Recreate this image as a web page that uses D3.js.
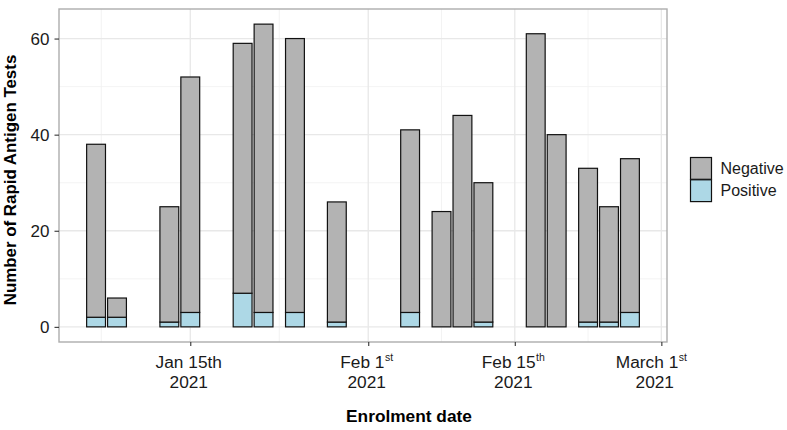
<!DOCTYPE html>
<html>
<head>
<meta charset="utf-8">
<script src="https://cdn.jsdelivr.net/npm/d3@7/dist/d3.min.js"></script>
<style>
  html, body { margin: 0; padding: 0; background: #fff; }
  svg { display: block; font-family: "Liberation Sans", Arial, Helvetica, sans-serif; }
</style>
</head>
<body>
<svg id="chart" width="787" height="430"></svg>
<script>
// ---- data ----
const enrolDates = ["2021-01-06","2021-01-08","2021-01-13","2021-01-15","2021-01-20","2021-01-22",
  "2021-01-25","2021-01-29","2021-02-05","2021-02-08","2021-02-10","2021-02-12",
  "2021-02-17","2021-02-19","2021-02-22","2021-02-24","2021-02-26"];
const positive = [2, 2, 1, 3, 7, 3, 3, 1, 3, 0, 0, 1, 0, 0, 1, 1, 3];
const negative = [36, 4, 24, 49, 52, 60, 57, 25, 38, 24, 44, 29, 61, 40, 32, 24, 32];
const seriesNames = ["Negative", "Positive"];
const seriesColors = ["#b3b3b3", "#add8e6"];
const yTicks = [0, 20, 40, 60];
const xTickDates = ["2021-01-15", "2021-02-01", "2021-02-15", "2021-03-01"];
const xTickMain = ["Jan 15", "Feb 1", "Feb 15", "March 1"];
const xTickSuffix = ["th", "st", "th", "st"];
const xTickSuper = [false, true, true, true];
const xTickYear = ["2021", "2021", "2021", "2021"];
const xTitle = "Enrolment date";
const yTitle = "Number of Rapid Antigen Tests";

// ---- layout ----
const svg = d3.select("#chart");
const panel = { left: 59, right: 667, top: 9, bottom: 342 };
const parse = d3.utcParse("%Y-%m-%d");
const DAY = 864e5;
const halfBar = 0.9 * DAY;
const labelRightLimit = 687;

const rows = enrolDates.map((d, i) => ({ date: parse(d), Positive: positive[i], Negative: negative[i] }));
const stacked = d3.stack().keys(["Positive", "Negative"])(rows);

const lo = d3.min(rows, r => +r.date) - halfBar;
const hi = d3.max(rows, r => +r.date) + halfBar;
const padX = (hi - lo) * 0.05;
const x = d3.scaleUtc().domain([new Date(lo - padX), new Date(hi + padX)]).range([panel.left, panel.right]);

const maxY = d3.max(rows, r => r.Positive + r.Negative);
const padY = maxY * 0.05;
const y = d3.scaleLinear().domain([-padY, maxY + padY]).range([panel.bottom, panel.top]);

// ---- grid ----
const grid = svg.append("g");
const majorX = xTickDates.map(parse);
const minorX = [];
for (let i = 0; i < majorX.length - 1; i++) minorX.push(new Date((+majorX[i] + +majorX[i + 1]) / 2));
minorX.unshift(new Date(+majorX[0] - (+majorX[1] - +majorX[0]) / 2));
const minorY = [10, 30, 50];

grid.selectAll(".minx").data(minorX.filter(d => x(d) > panel.left && x(d) < panel.right)).join("line")
  .attr("x1", d => x(d)).attr("x2", d => x(d)).attr("y1", panel.top).attr("y2", panel.bottom)
  .attr("stroke", "#f0f0f0").attr("stroke-width", 0.8);
grid.selectAll(".miny").data(minorY).join("line")
  .attr("x1", panel.left).attr("x2", panel.right).attr("y1", d => y(d)).attr("y2", d => y(d))
  .attr("stroke", "#f0f0f0").attr("stroke-width", 0.8);
grid.selectAll(".majx").data(majorX).join("line")
  .attr("x1", d => x(d)).attr("x2", d => x(d)).attr("y1", panel.top).attr("y2", panel.bottom)
  .attr("stroke", "#e8e8e8").attr("stroke-width", 1.3);
grid.selectAll(".majy").data(yTicks).join("line")
  .attr("x1", panel.left).attr("x2", panel.right).attr("y1", d => y(d)).attr("y2", d => y(d))
  .attr("stroke", "#e8e8e8").attr("stroke-width", 1.3);

// ---- bars ----
const colorOf = k => seriesColors[seriesNames.indexOf(k)];
const bars = svg.append("g");
stacked.forEach(layer => {
  bars.append("g").selectAll("rect").data(layer).join("rect")
    .attr("x", d => x(new Date(+d.data.date - halfBar)))
    .attr("width", d => x(new Date(+d.data.date + halfBar)) - x(new Date(+d.data.date - halfBar)))
    .attr("y", d => y(d[1]))
    .attr("height", d => Math.max(0, y(d[0]) - y(d[1])))
    .attr("fill", colorOf(layer.key))
    .attr("stroke", "#111")
    .attr("stroke-width", 1.2);
});

// ---- panel border ----
svg.append("rect")
  .attr("x", panel.left).attr("y", panel.top)
  .attr("width", panel.right - panel.left).attr("height", panel.bottom - panel.top)
  .attr("fill", "none").attr("stroke", "#adadad").attr("stroke-width", 1.4);

// ---- axes ----
const yAxis = svg.append("g").attr("transform", `translate(${panel.left},0)`)
  .call(d3.axisLeft(y).tickValues(yTicks).tickSize(4.5).tickPadding(5).tickFormat(d3.format("d")));
yAxis.select(".domain").remove();
yAxis.selectAll(".tick line").attr("stroke", "#333").attr("stroke-width", 1.1);
yAxis.selectAll(".tick text").attr("font-size", "17px").attr("fill", "#1a1a1a")
  .attr("font-family", "'Liberation Sans', Arial, sans-serif");

const xAxis = svg.append("g").attr("transform", `translate(0,${panel.bottom})`)
  .call(d3.axisBottom(x).tickValues(majorX).tickSize(4).tickFormat(""));
xAxis.select(".domain").remove();
xAxis.selectAll(".tick line").attr("stroke", "#333").attr("stroke-width", 1.1);

const xLab = svg.append("g").attr("font-size", "17.3px").attr("fill", "#1a1a1a").attr("text-anchor", "middle");
majorX.forEach((d, i) => {
  const cx = x(d) - 1.5;
  const t = xLab.append("text").attr("x", cx).attr("y", 368.3);
  t.append("tspan").text(xTickMain[i]);
  if (xTickSuper[i]) {
    t.append("tspan").attr("font-size", "10.5px").attr("dy", -7).attr("dx", 0.5).text(xTickSuffix[i]);
  } else {
    t.append("tspan").text(xTickSuffix[i]);
  }
  const bb = t.node().getBBox();
  let shift = 0;
  if (bb.x + bb.width > labelRightLimit) {
    shift = labelRightLimit - (bb.x + bb.width);
    t.attr("x", cx + shift);
  }
  xLab.append("text").attr("x", cx + shift * 0.6).attr("y", 388.3).text(xTickYear[i]);
});

// ---- titles ----
svg.append("text").attr("x", 409).attr("y", 422.3)
  .attr("text-anchor", "middle").attr("font-size", "17.3px").attr("font-weight", "bold").attr("fill", "#000")
  .text(xTitle);
svg.append("text").attr("transform", `translate(16,180) rotate(-90)`)
  .attr("text-anchor", "middle").attr("font-size", "16.9px").attr("font-weight", "bold").attr("fill", "#000")
  .text(yTitle);

// ---- legend ----
const legend = svg.append("g").attr("transform", "translate(690,157)");
seriesNames.forEach((name, i) => {
  legend.append("rect").attr("x", 0.5).attr("y", i * 22.3 + 0.5).attr("width", 21).attr("height", 21.8)
    .attr("fill", seriesColors[i]).attr("stroke", "#111").attr("stroke-width", 1.2);
  legend.append("text").attr("x", 30.5).attr("y", i * 22.3 + 11.5).attr("dy", "0.35em")
    .attr("font-size", "16px").attr("fill", "#1a1a1a").text(name);
});
</script>
</body>
</html>
